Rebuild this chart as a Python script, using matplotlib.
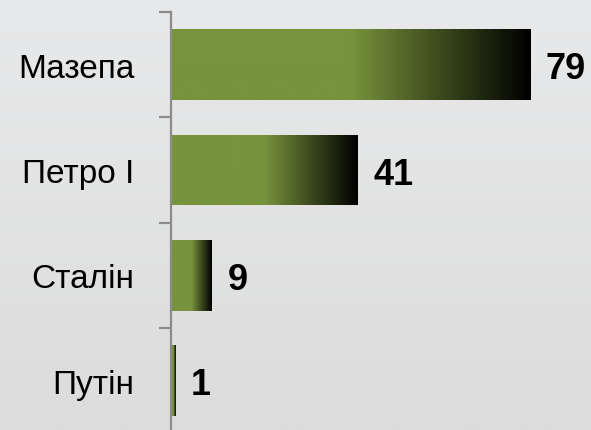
import numpy as np
import matplotlib
matplotlib.use('Agg')
import matplotlib.pyplot as plt
from matplotlib.colors import LinearSegmentedColormap

# дані
names = ['Мазепа', 'Петро І', 'Сталін', 'Путін']
values = [79, 41, 9, 1]

green = '#77933c'
axis_grey = '#8c8c8c'

fig = plt.figure(figsize=(5.91, 4.31), dpi=100)

# фон - легкий сірий градієнт
bg = fig.add_axes([0, 0, 1, 1], zorder=-10)
grad = np.linspace(0, 1, 256).reshape(-1, 1)
bg_cmap = LinearSegmentedColormap.from_list('bg', ['#e8e9ea', '#dcdcdc'])
bg.imshow(grad, cmap=bg_cmap, aspect='auto', extent=(0, 1, 0, 1), origin='upper')
bg.axis('off')

ax = fig.add_axes([170.5 / 591, -4 / 431, 1 - 170.5 / 591, 422 / 431])
ax.patch.set_alpha(0)

y = np.arange(len(names))
bars = ax.barh(y, values, height=0.67, color='none', edgecolor='none')

bar_cmap = LinearSegmentedColormap.from_list('bar', [(0, green), (0.5, green), (1, 'black')])
hgrad = np.linspace(0, 1, 256).reshape(1, -1)
for b, v, yy in zip(bars, values, y):
    im = ax.imshow(hgrad, cmap=bar_cmap, aspect='auto',
                   extent=(0, v, yy + 0.335, yy - 0.335), zorder=2)
    im.set_clip_path(b)
    ax.annotate(str(v), (v, yy), xytext=(11.5, 0), textcoords='offset points',
                ha='left', va='center_baseline', fontsize=26, fontweight='bold',
                family='Liberation Sans', color='black')

ax.set_xlim(0, 92.4)
ax.set_ylim(3.5 + 0.005, -0.5)

for s in ['top', 'right', 'bottom']:
    ax.spines[s].set_visible(False)
ax.spines['left'].set_color(axis_grey)
ax.spines['left'].set_linewidth(1.6)

ax.set_xticks([])
ax.set_yticks([-0.5, 0.5, 1.5, 2.5, 3.5])
ax.set_yticklabels([])
ax.set_yticks(y, minor=True)
ax.set_yticklabels(names, minor=True, fontsize=24, family='Liberation Sans')
ax.tick_params(axis='y', which='major', length=9, width=1.6, color=axis_grey, direction='out')
ax.tick_params(axis='y', which='minor', length=0, pad=26)

fig.savefig('out.png', dpi=100)
